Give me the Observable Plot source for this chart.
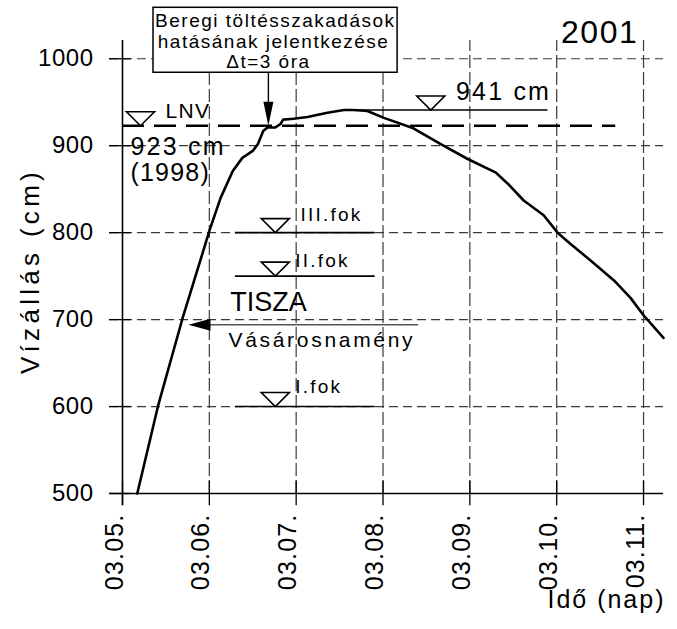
<!DOCTYPE html>
<html>
<head>
<meta charset="utf-8">
<script src="https://cdn.jsdelivr.net/npm/d3@7"></script>
<script src="https://cdn.jsdelivr.net/npm/@observablehq/plot@0.6"></script>
<style>
  html, body { margin: 0; padding: 0; background: #fff; }
</style>
</head>
<body>
<div id="chart"></div>
<script>
// ---- data ----
const dayTicks = [0, 1, 2, 3, 4, 5, 6];
const dayLabels = ["03.05.", "03.06.", "03.07.", "03.08.", "03.09.", "03.10.", "03.11."];
const levelTicks = [500, 600, 700, 800, 900, 1000];

// water level at Vásárosnamény (days after 03.05., cm)
const days = [0.17, 0.41, 0.69, 0.93, 1.00, 1.13, 1.27, 1.38, 1.50, 1.56, 1.62, 1.67, 1.76, 1.82, 1.85, 1.97,
              2.13, 2.36, 2.55, 2.66, 2.82, 3.01, 3.35, 3.66, 3.97, 4.30, 4.44, 4.62, 4.85, 5.01, 5.16, 5.39,
              5.66, 5.85, 6.00, 6.23];
const values = [500, 601, 701, 779, 802, 840, 871, 886, 894, 902, 917, 921, 921, 925, 930, 931,
                933, 938, 941, 941, 940, 932, 920, 902, 885, 869, 856, 837, 820, 800, 787, 768,
                745, 725, 705, 679];

// reference levels
const lnvLevel = 923;
const peakLevel = 941;
const fokNames = ["III.fok", "II.fok", "I.fok"];
const fokLevels = [800, 750, 600];
const boxLines = ["Beregi töltésszakadások", "hatásának jelentkezése", "Δt=3 óra"];

const series = days.map((d, i) => ({day: d, level: values[i]}));

// ---- custom symbols ----
const triDown = {draw(ctx) { ctx.moveTo(-14, -14); ctx.lineTo(14, -14); ctx.lineTo(0, 0); ctx.closePath(); }};
const headDown = {draw(ctx) { ctx.moveTo(-5, -24); ctx.lineTo(5, -24); ctx.lineTo(0, 0); ctx.closePath(); }};
const headLeft = {draw(ctx) { ctx.moveTo(0, 0); ctx.lineTo(22, -6); ctx.lineTo(22, 6); ctx.closePath(); }};

const xL = -0.15, xR = 6.23, yTop = 1021;
const gridColor = "#3a3a3a";

const chart = Plot.plot({
  width: 677,
  height: 629,
  marginLeft: 122,
  marginRight: 14,
  marginTop: 40,
  marginBottom: 136,
  x: {domain: [0, xR], axis: null},
  y: {domain: [500, yTop], axis: null},
  style: {fontFamily: "'Liberation Sans', Arial, sans-serif", fontSize: "24px", background: "#fff", color: "#000"},
  marks: [
    // dashed grid
    Plot.ruleY(levelTicks.filter(v => v > 500), {x1: xL, x2: xR, stroke: gridColor, strokeWidth: 1.2, strokeDasharray: "9,5"}),
    Plot.ruleX(dayTicks.filter(d => d > 0), {y1: 500, y2: yTop, stroke: gridColor, strokeWidth: 1.2, strokeDasharray: "13,4"}),
    // tick crosses
    Plot.ruleY(levelTicks, {x1: xL, x2: 0.1, stroke: "#000", strokeWidth: 1.3}),
    Plot.ruleX(dayTicks, {y1: 486, y2: 514, stroke: "#000", strokeWidth: 1.3}),
    // axis lines
    Plot.ruleX([0], {y1: 486, y2: yTop, stroke: "#000", strokeWidth: 1.6}),
    Plot.ruleY([500], {x1: xL, x2: xR, stroke: "#000", strokeWidth: 1.6}),
    // y tick labels
    Plot.axisY(levelTicks, {tickSize: 0, tickPadding: 29, label: null, fontSize: 24, tickFormat: d => String(d)}),
    // x tick labels
    Plot.text(dayTicks, {x: d => d, frameAnchor: "bottom", dy: 20, rotate: -90, textAnchor: "end",
      text: d => dayLabels[d], fontSize: 25}),
    // axis titles
    Plot.text(["Vízállás (cm)"], {frameAnchor: "left", dx: -92, dy: 4, rotate: -90, textAnchor: "middle", fontSize: 26}),
    Plot.text(["Idő (nap)"], {frameAnchor: "bottom-right", dx: 2, dy: 114, textAnchor: "end", fontSize: 25}),
    Plot.text(["2001"], {x: 5.05, y: 1030, textAnchor: "start", fontSize: 32}),

    // LNV line
    Plot.ruleY([lnvLevel], {x1: 0, x2: 5.68, stroke: "#000", strokeWidth: 2.6, strokeDasharray: "22,10"}),
    // peak line
    Plot.ruleY([peakLevel], {x1: 2.6, x2: 4.9, stroke: "#000", strokeWidth: 1.4}),
    // alarm level lines
    Plot.ruleY(fokLevels, {x1: 1.30, x2: 2.91, stroke: "#000", strokeWidth: 1.6}),

    // level markers
    Plot.dot([{x: 0.207, y: lnvLevel}, {x: 3.55, y: peakLevel}, ...fokLevels.map(v => ({x: 1.76, y: v}))],
      {x: "x", y: "y", symbol: triDown, fill: "#fff", stroke: "#000", strokeWidth: 1.6}),

    // level texts
    Plot.text(["LNV"], {x: 0.495, y: 940, textAnchor: "start", fontSize: 21}),
    Plot.text([lnvLevel + " cm"], {x: 0.092, y: 899, textAnchor: "start", fontSize: 25}),
    Plot.text(["(1998)"], {x: 0.092, y: 869, textAnchor: "start", fontSize: 25}),
    Plot.text([peakLevel + " cm"], {x: 3.84, y: 962, textAnchor: "start", fontSize: 25}),
    Plot.text(fokNames, {x: [2.05, 1.99, 1.99], y: [820, 768, 623], textAnchor: "start", fontSize: 19}),
    Plot.text(["TISZA"], {x: 1.24, y: 720, textAnchor: "start", fontSize: 27}),
    Plot.text(["Vásárosnamény"], {x: 1.22, y: 676, textAnchor: "start", fontSize: 21}),

    // station arrow
    Plot.ruleY([694], {x1: 0.80, x2: 3.41, stroke: "#555", strokeWidth: 1.5}),
    Plot.dot([{x: 0.76, y: 694}], {x: "x", y: "y", symbol: headLeft, fill: "#000", stroke: "none"}),

    // annotation box
    Plot.rect([{x1: 0.357, x2: 3.168, y1: 983.9, y2: 1058.6}], {x1: "x1", x2: "x2", y1: "y1", y2: "y2", fill: "#fff", stroke: "#000", strokeWidth: 1.5}),
    Plot.text(boxLines, {x: [1.76, 1.74, 1.68], y: [1043, 1019, 996], textAnchor: "middle", fontSize: 19}),
    Plot.ruleX([1.68], {y1: 928, y2: 983.9, stroke: "#000", strokeWidth: 1.4}),
    Plot.dot([{x: 1.68, y: 923}], {x: "x", y: "y", symbol: headDown, fill: "#000", stroke: "none"}),

    // hydrograph
    Plot.line(series, {x: "day", y: "level", stroke: "#000", strokeWidth: 2.6, strokeLinejoin: "round"})
  ]
});

// letter spacing to mimic the wide CAD lettering (matched by text content)
const spacing = new Map([
  ...levelTicks.map(v => [String(v), 0.5]),
  ...dayLabels.map(l => [l, 1.2]),
  ["Vízállás (cm)", 4.3], ["Idő (nap)", 2], ["2001", 1.5], ["LNV", 1.3],
  [lnvLevel + " cm", 2.2], [peakLevel + " cm", 2.2], ["(1998)", 1.2],
  ...fokNames.map(n => [n, 2.2]), ["TISZA", 0], ["Vásárosnamény", 2.7],
  ...boxLines.map(l => [l, 1.5])
]);
chart.querySelectorAll("text").forEach(t => {
  const s = spacing.get(t.textContent);
  if (s !== undefined) t.setAttribute("letter-spacing", s);
});
document.getElementById("chart").appendChild(chart);
</script>
</body>
</html>
